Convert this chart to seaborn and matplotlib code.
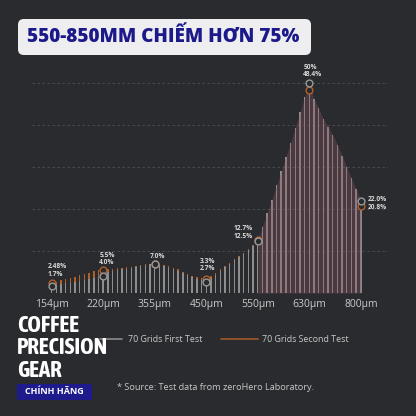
import numpy as np
import matplotlib
matplotlib.use("Agg")
import matplotlib.pyplot as plt
from matplotlib import font_manager
from matplotlib.lines import Line2D
from matplotlib.patches import FancyBboxPatch, Rectangle
import seaborn as sns

# sieve sizes shown on the x axis (every 11th bar)
size_labels = ['154μm', '220μm', '355μm', '450μm', '550μm', '630μm', '800μm']
label_idx = [0, 11, 22, 33, 44, 55, 66]

# 70 Grids First Test (%)
first_test = [1.7, 1.9, 2.1, 2.3, 2.5, 2.7, 2.9, 3.1, 3.4, 3.6, 3.8, 4.0,
              5.0, 5.2, 5.4, 5.6, 5.8, 6.0, 6.2, 6.4, 6.6, 6.8, 7.0,
              6.7, 6.4, 6.0, 5.6, 5.2, 4.7, 4.2, 3.7, 3.3, 3.0, 2.7,
              3.6, 4.4, 5.3, 6.1, 7.0, 7.8, 8.6, 9.4, 10.2, 11.3, 12.5,
              15.8, 19.0, 22.2, 25.6, 29.0, 32.4, 35.8, 39.4, 43.0, 46.6, 50.0,
              46.2, 44.0, 41.5, 39.6, 37.6, 35.3, 32.7, 30.0, 27.3, 24.8, 22.0]

# 70 Grids Second Test
second_test = [2.48, 2.7, 3.0, 3.3, 3.6, 3.9, 4.2, 4.5, 4.8, 5.2, 5.4, 5.5,
               5.6, 5.7, 5.9, 6.0, 6.2, 6.3, 6.5, 6.6, 6.8, 6.9, 7.0,
               6.9, 6.7, 6.4, 6.0, 5.6, 5.1, 4.6, 4.1, 3.8, 3.5, 3.3,
               4.0, 4.8, 5.6, 6.4, 7.2, 8.0, 8.8, 9.6, 10.4, 11.5, 12.7,
               15.4, 18.5, 21.6, 24.8, 28.0, 31.3, 34.6, 38.0, 41.4, 45.0, 48.4,
               45.2, 43.0, 40.6, 38.6, 36.6, 34.3, 31.8, 29.0, 26.3, 23.6, 20.8]

# value labels at the marked sizes
point_labels = ['2.48%\n1.7%', '5.5%\n4.0%', '7.0%', '3.3%\n2.7%',
                '12.7%\n12.5%', '50%\n48.4%', '22.0%\n20.8%']

bg = '#292b2f'
grey = '#8e8e8e'
orange = '#b0602a'

sns.set_theme(style='dark', rc={'axes.facecolor': bg, 'figure.facecolor': bg})
plt.rcParams['font.family'] = ['Open Sans', 'DejaVu Sans']

# pick a narrow face for the brand block if one is installed
narrow = None
for f in font_manager.fontManager.ttflist:
    if ('Condensed' in f.name or 'Narrow' in f.name) and f.weight in ('bold', 700, 'heavy', 800, 900):
        narrow = f.name
        break
if narrow is None:
    for f in font_manager.fontManager.ttflist:
        if 'Condensed' in f.name or 'Narrow' in f.name or f.stretch in ('condensed', 'semi-condensed'):
            narrow = f.name
            break
brand_family = [narrow, 'DejaVu Sans'] if narrow else ['DejaVu Sans']
brand_size = 16.6 if narrow else 11

pos = np.arange(len(first_test))
first = np.array(first_test)
second = np.array(second_test)

fig = plt.figure(figsize=(4.16, 4.16), dpi=100)
ax = fig.add_axes([32 / 416, 123 / 416, 356 / 416, 231 / 416])

sns.barplot(x=pos, y=second, native_scale=True, width=0.3, color=orange,
            saturation=1, errorbar=None, linewidth=0, zorder=2, ax=ax)
sns.barplot(x=pos, y=first, native_scale=True, width=0.3, color=grey,
            saturation=1, errorbar=None, linewidth=0, zorder=2.5, ax=ax)

# highlight of the 550-800 range
hi = pos >= 44
ax.fill_between(pos[hi], 0, np.maximum(first, second)[hi], color='#8a5560',
                alpha=0.35, lw=0, zorder=3)

# hollow markers at labelled sizes
li = np.array(label_idx)
ax.scatter(li, second[li], s=24, facecolor=bg, edgecolor=orange, lw=1, zorder=5)
ax.scatter(li, first[li], s=24, facecolor=bg, edgecolor='#9a9a9a', lw=1, zorder=5)

offsets = [(-4, 12, 'left'), (-4, 11, 'left'), (-5, 7, 'left'), (-6, 14, 'left'),
           (-5, 7, 'right'), (-6, 12, 'left'), (7, -3, 'left')]
for i, lab, (dx, dy, ha) in zip(label_idx, point_labels, offsets):
    ax.annotate(lab, xy=(i, max(first[i], second[i])), xytext=(dx, dy),
                textcoords='offset pixels', ha=ha, va='center', fontsize=4.8,
                fontweight='bold', color='#d8d8d8', linespacing=1.1, zorder=6)

ax.set_xlim(-4.2, 71.8)
ax.set_ylim(0, 55)
ax.set_yticks([0, 10, 20, 30, 40, 50])
ax.set_yticklabels([])
ax.yaxis.grid(True, color='#4c4f55', lw=0.6, ls=(0, (3, 3)))
ax.xaxis.grid(False)
ax.set_xticks(label_idx)
ax.set_xticklabels(size_labels, color='#c9c9c9', fontsize=7.5)
ax.tick_params(axis='both', length=0, pad=4.5)
ax.set_xlabel('')
ax.set_ylabel('')
for s in ax.spines.values():
    s.set_visible(False)

# title box
fig.add_artist(FancyBboxPatch((18 / 416, 361 / 416), 293 / 416, 36 / 416,
                              boxstyle='round,pad=0,rounding_size=0.014',
                              transform=fig.transFigure, fc='#eeeef0', ec='none'))
fig.text(163.5 / 416, 1 - 37 / 416, '550-850MM CHIẾM HƠN 75%', ha='center',
         va='center', fontsize=13.6, fontweight='heavy', color='#1c1a8a')

# legend
fig.add_artist(Line2D([100 / 416, 122 / 416], [1 - 339 / 416] * 2, color='#8c8c8c', lw=1.2))
fig.text(128 / 416, 1 - 339 / 416, '70 Grids First Test', va='center',
         fontsize=6.4, color='#c8c8c8')
fig.add_artist(Line2D([221 / 416, 258 / 416], [1 - 339 / 416] * 2, color='#a0582a', lw=1.2))
fig.text(262 / 416, 1 - 339 / 416, '70 Grids Second Test', va='center',
         fontsize=6.4, color='#c8c8c8')

fig.text(117 / 416, 1 - 387 / 416, '* Source: Test data from zeroHero Laboratory.',
         va='center', fontsize=6.6, color='#c8c8c8')

# brand block (baseline of the last line)
fig.text(17 / 416, 1 - 377 / 416, 'COFFEE\nPRECISION\nGEAR', va='baseline', ha='left',
         fontsize=brand_size, fontweight='bold', color='white',
         family=brand_family, linespacing=1.04)
fig.add_artist(Rectangle((17 / 416, 1 - 400 / 416), 75 / 416, 16 / 416,
                         transform=fig.transFigure, fc='#1e1c8c', ec='none'))
fig.text(54.5 / 416, 1 - 392 / 416, 'CHÍNH HÃNG', ha='center', va='center',
         fontsize=6.5, fontweight='bold', color='white')

fig.savefig('out.png', dpi=100, facecolor=bg)
